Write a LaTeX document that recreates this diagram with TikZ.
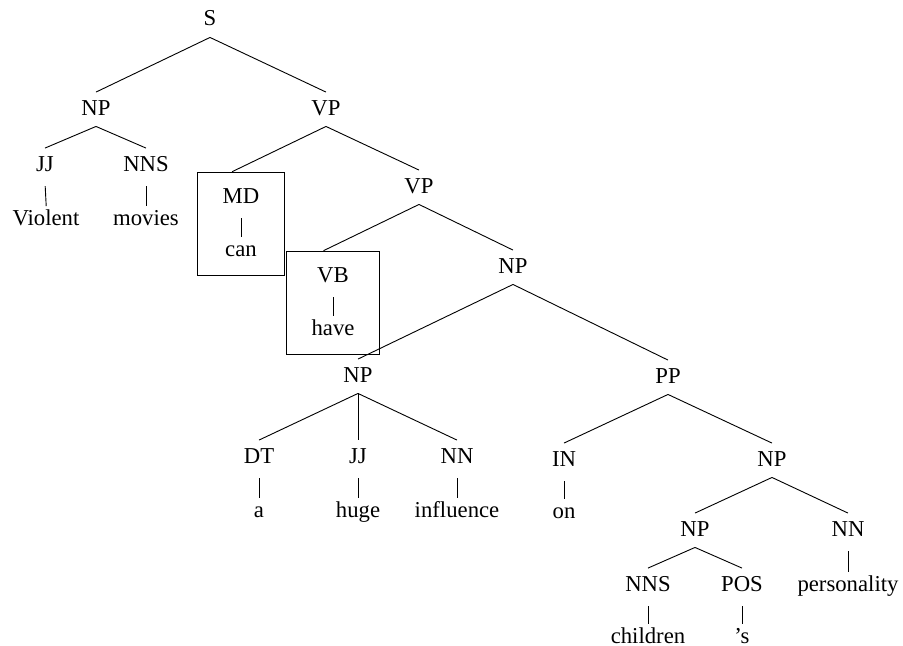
\documentclass[tikz,border=0pt]{standalone}
\usepackage{fontspec}
\setmainfont{Liberation Serif}
\usepackage{tikz}
\usetikzlibrary{calc,fit}

\tikzset{
  tag/.style={anchor=base, inner sep=3pt, text height=1.5ex, text depth=0.4ex, font=\fontsize{10}{12}\selectfont},
  leaf/.style={shorten <=1.6pt, shorten >=-1.8pt},
  wordbox/.style={draw, inner xsep=8pt, inner ysep=3.5pt}
}

\begin{document}
\begin{tikzpicture}[x=0.44pt,y=-0.44pt]
\useasboundingbox (0,0) rectangle (903,646);
\node[tag] (S) at (210,26) {S};
\node[tag] (NPa) at (96,115) {NP};
\node[tag] (VPa) at (326,115) {VP};
\node[tag] (JJa) at (45,171) {JJ};
\node[tag] (NNSa) at (146,171) {NNS};
\node[tag] (violent) at (46,225) {Violent};
\node[tag] (movies) at (146,225) {movies};
\node[tag] (MD) at (241,203) {MD};
\node[tag] (can) at (241,256) {can};
\node[tag] (VPb) at (419,193) {VP};
\node[tag] (VB) at (333,282) {VB};
\node[tag] (have) at (333,335) {have};
\node[tag] (NPb) at (513,273) {NP};
\node[tag] (NPc) at (358,382) {NP};
\node[tag] (PP) at (668,383) {PP};
\node[tag] (DT) at (259,463) {DT};
\node[tag] (JJb) at (358,463) {JJ};
\node[tag] (NNa) at (457,463) {NN};
\node[tag] (a) at (259,517) {a};
\node[tag] (huge) at (358,517) {huge};
\node[tag] (influence) at (457,517) {influence};
\node[tag] (IN) at (564,466) {IN};
\node[tag] (on) at (564,518) {on};
\node[tag] (NPd) at (772,466) {NP};
\node[tag] (NPe) at (695,536) {NP};
\node[tag] (NNb) at (848,536) {NN};
\node[tag] (NNSb) at (648,591) {NNS};
\node[tag] (POS) at (742,591) {POS};
\node[tag] (personality) at (848,591) {personality};
\node[tag] (children) at (648,643) {children};
\node[tag] (s) at (742,643) {'s};
\node[wordbox, fit=(MD)(can)] (MDbox) {};
\node[wordbox, fit=(VB)(have)] (VBbox) {};

\draw (S.south) -- (NPa.north);
\draw (S.south) -- (VPa.north);
\draw (NPa.south) -- (JJa.north);
\draw (NPa.south) -- (NNSa.north);
\draw[leaf] (JJa.south) -- (violent.north);
\draw[leaf] (NNSa.south) -- (movies.north);
\draw (VPa.south) -- ($(MDbox.north west)!0.4!(MDbox.north east)$);
\draw (VPa.south) -- (VPb.north);
\draw[leaf] (MD.south) -- (can.north);
\draw (VPb.south) -- ($(VBbox.north west)!0.4!(VBbox.north east)$);
\draw (VPb.south) -- (NPb.north);
\draw[leaf] (VB.south) -- (have.north);
\draw (NPb.south) -- (NPc.north);
\draw (NPb.south) -- (PP.north);
\draw (NPc.south) -- (DT.north);
\draw (NPc.south) -- (JJb.north);
\draw (NPc.south) -- (NNa.north);
\draw[leaf] (DT.south) -- (a.north);
\draw[leaf] (JJb.south) -- (huge.north);
\draw[leaf] (NNa.south) -- (influence.north);
\draw (PP.south) -- (IN.north);
\draw (PP.south) -- (NPd.north);
\draw[leaf] (IN.south) -- (on.north);
\draw (NPd.south) -- (NPe.north);
\draw (NPd.south) -- (NNb.north);
\draw (NPe.south) -- (NNSb.north);
\draw (NPe.south) -- (POS.north);
\draw[leaf] (NNb.south) -- (personality.north);
\draw[leaf] (NNSb.south) -- (children.north);
\draw[leaf] (POS.south) -- (s.north);
\end{tikzpicture}
\end{document}
